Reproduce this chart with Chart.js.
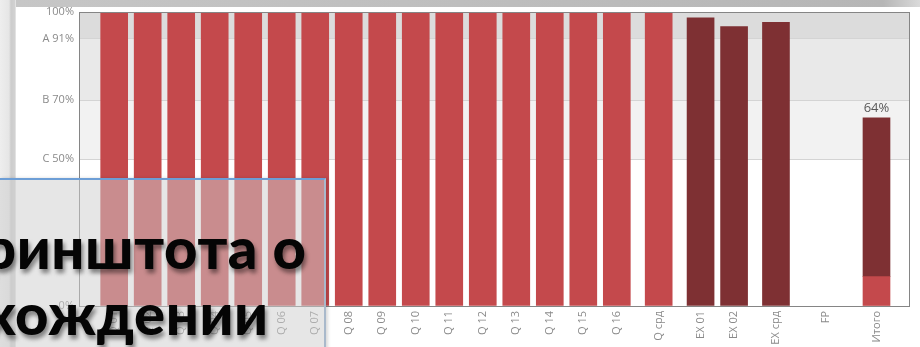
<!DOCTYPE html>
<html lang="ru">
<head>
<meta charset="utf-8">
<title>Результаты теста</title>
<script src="https://cdn.jsdelivr.net/npm/chart.js@4.4.1/dist/chart.umd.min.js"></script>
<style>
  html, body { margin: 0; padding: 0; background: #fff; }
  #wrap { position: relative; width: 920px; height: 347px; overflow: hidden; }
  #wrap canvas { position: absolute; left: 0; top: 0; }
  .frame-top { position: absolute; left: 0; top: 0; width: 920px; height: 7px;
    background: linear-gradient(to right, #e4e4e4 0px, #c6c6c6 16px, #bebebe 50%, #b6b6b6 96%, #dadada 100%); }
  .frame-left { position: absolute; left: 0; top: 0; width: 16px; height: 347px;
    background: linear-gradient(to right, #eeeeee 0px, #e6e6e6 9px, #cccccc 11px, #d2d2d2 15px, #f2f2f2 16px); }
  .note { position: absolute; left: 0; top: 178px; width: 324px; height: 180px;
    background: rgba(206, 206, 206, 0.51);
    border-top: 2px solid #6d9ed6; border-right: 2px solid #a9b9cb;
    box-shadow: 2px 0 3px rgba(0, 0, 0, 0.15); overflow: hidden; }
  .note span { position: absolute; white-space: nowrap;
    font-family: Lato, "Noto Sans", sans-serif; font-weight: 900;
    font-size: 58px; line-height: 58px; letter-spacing: 0.6px; color: #050505;
    text-shadow: 2px 4px 4px rgba(0, 0, 0, 0.45); }
</style>
</head>
<body>
<div id="wrap">
  <canvas id="scores" width="920" height="347"></canvas>
  <div class="frame-top"></div>
  <div class="frame-left"></div>
  <div class="note">
    <span style="left:-17px; top:38px;">ринштота о</span>
    <span style="left:-15px; top:104px;">хождении</span>
  </div>
</div>
<script>
// Categories along the x axis
const categories = [
  'Q 01', 'Q 02', 'Q 03', 'Q 04', 'Q 05', 'Q 06', 'Q 07', 'Q 08',
  'Q 09', 'Q 10', 'Q 11', 'Q 12', 'Q 13', 'Q 14', 'Q 15', 'Q 16',
  'Q срд', 'EX 01', 'EX 02', 'EX срд', 'FP', 'Итого'
];

// Question scores (%), light red bars; the last one is the lower part of "Итого"
const questionScores = [
  100, 100, 100, 100, 100, 100, 100, 100,
  100, 100, 100, 100, 100, 100, 100, 100,
  100, null, null, null, null, 10
];

// Exercise scores (%), dark bars; the last one is the upper part of "Итого"
const exerciseScores = [
  null, null, null, null, null, null, null, null,
  null, null, null, null, null, null, null, null,
  null, 98, 95, 96.5, null, 54
];

// Grade thresholds on the y axis and their labels
const gradeTicks = [0, 50, 70, 91, 100];
const gradeTickLabels = ['0%', 'C 50%', 'B 70%', 'A 91%', '100%'];

// Category that gets a total label above its stack
const labelledCategory = 'Итого';

// ---- layout: extra space (in slots) opening each new group of bars
const groupGapBefore = { 'Q срд': 0.25, 'EX 01': 0.25, 'EX срд': 0.25, 'FP': 0.5, 'Итого': 0.5 };
const slots = [];
categories.forEach((c, i) => {
  slots.push(i === 0 ? 0 : slots[i - 1] + 1 + (groupGapBefore[c] || 0));
});

const bandColors = ['#f2f2f2', '#e9e9e9', '#dcdcdc']; // C, B, A bands
const QUESTION_RED = '#c4494c';
const EXERCISE_RED = '#7e3033';

const toPoints = values => values
  .map((v, i) => (v === null ? null : { x: slots[i], y: v }))
  .filter(p => p !== null);

const gradeBands = {
  id: 'gradeBands',
  beforeDraw(chart) {
    const { ctx, chartArea: a, scales: { y } } = chart;
    ctx.save();
    for (let i = 1; i < gradeTicks.length - 1; i++) {
      const top = y.getPixelForValue(gradeTicks[i + 1]);
      const bottom = y.getPixelForValue(gradeTicks[i]);
      ctx.fillStyle = bandColors[i - 1];
      ctx.fillRect(a.left, top, a.right - a.left, bottom - top);
    }
    ctx.restore();
  },
  afterDatasetsDraw(chart) {
    const { ctx, chartArea: a, scales: { x, y } } = chart;
    ctx.save();
    // plot frame
    ctx.strokeStyle = '#858585';
    ctx.lineWidth = 1;
    ctx.strokeRect(Math.round(a.left) + 0.5, Math.round(a.top) + 0.5,
      Math.round(a.right - a.left) - 1, Math.round(a.bottom - a.top));
    // total above the summary stack
    const i = categories.indexOf(labelledCategory);
    const total = (questionScores[i] || 0) + (exerciseScores[i] || 0);
    ctx.fillStyle = '#595959';
    ctx.font = '13px "Open Sans", sans-serif';
    ctx.textAlign = 'center';
    ctx.textBaseline = 'bottom';
    ctx.fillText(total + '%', x.getPixelForValue(slots[i]), y.getPixelForValue(total) - 3);
    ctx.restore();
  }
};

new Chart(document.getElementById('scores'), {
  type: 'bar',
  data: {
    datasets: [
      { label: 'Вопросы', data: toPoints(questionScores), backgroundColor: QUESTION_RED, barThickness: 27 },
      { label: 'Упражнения', data: toPoints(exerciseScores), backgroundColor: EXERCISE_RED, barThickness: 27 }
    ]
  },
  options: {
    responsive: false,
    animation: false,
    layout: { padding: { left: 0, top: 12, right: 10, bottom: 0 } },
    plugins: { legend: { display: false }, tooltip: { enabled: false } },
    scales: {
      x: {
        type: 'linear',
        stacked: true,
        offset: false,
        min: slots[0] - 1.05,
        max: slots[slots.length - 1] + 1.0,
        grid: { display: false, drawTicks: false, offset: false },
        border: { display: false },
        afterBuildTicks(scale) { scale.ticks = slots.map(v => ({ value: v })); },
        afterFit(scale) { scale.height = 41; },
        ticks: {
          autoSkip: false,
          minRotation: 90,
          maxRotation: 90,
          padding: 5,
          color: '#8a8a8a',
          font: { family: '"Open Sans", sans-serif', size: 11 },
          callback: v => categories[slots.indexOf(v)]
        }
      },
      y: {
        stacked: true,
        min: 0,
        max: 100,
        border: { display: false },
        grid: {
          drawTicks: false,
          color: c => (c.tick && (c.tick.value === 0 || c.tick.value === 100)) ? 'rgba(0,0,0,0)' : '#d4d4d4'
        },
        afterBuildTicks(scale) { scale.ticks = gradeTicks.map(v => ({ value: v })); },
        afterFit(scale) { scale.width = 79; },
        ticks: {
          padding: 5,
          color: '#8a8a8a',
          font: { family: '"Open Sans", sans-serif', size: 11 },
          callback: v => gradeTickLabels[gradeTicks.indexOf(v)]
        }
      }
    }
  },
  plugins: [gradeBands]
});
</script>
</body>
</html>
